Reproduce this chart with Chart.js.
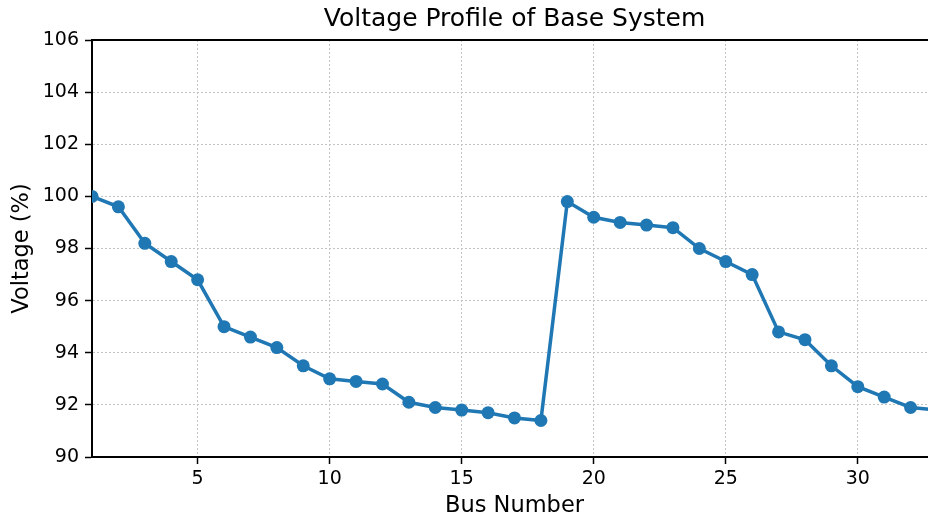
<!DOCTYPE html>
<html>
<head>
<meta charset="utf-8">
<title>Voltage Profile of Base System</title>
<script src="https://cdn.jsdelivr.net/npm/chart.js@4"></script>
<style>
  html, body { margin: 0; padding: 0; background: #fff; overflow: hidden; }
  #wrap { width: 960px; height: 522px; }
</style>
</head>
<body>
<div id="wrap"><canvas id="voltChart" width="960" height="522"></canvas></div>
<script>
const busNumbers = [1, 2, 3, 4, 5, 6, 7, 8, 9, 10, 11, 12, 13, 14, 15, 16, 17,
    18, 19, 20, 21, 22, 23, 24, 25, 26, 27, 28, 29, 30, 31, 32, 33];
const voltages = [100.0, 99.6, 98.2, 97.5, 96.8, 95.0, 94.6, 94.2, 93.5, 93.0, 92.9,
    92.8, 92.1, 91.9, 91.8, 91.7, 91.5, 91.4, 99.8, 99.2, 99.0, 98.9, 98.8, 98.0,
    97.5, 97.0, 94.8, 94.5, 93.5, 92.7, 92.3, 91.9, 91.8];
const xTicks = [5, 10, 15, 20, 25, 30];
const yTicks = [90, 92, 94, 96, 98, 100, 102, 104, 106];

const FONT = "'DejaVu Sans', sans-serif";
const BLUE = '#1f77b4';

// top and right spines, like matplotlib's box
const frame = {
    id: 'frame',
    afterDraw(chart) {
        const { ctx, chartArea: a } = chart;
        ctx.save();
        ctx.strokeStyle = '#000';
        ctx.lineWidth = 2;
        ctx.beginPath();
        ctx.moveTo(a.left, a.top);
        ctx.lineTo(a.right, a.top);
        ctx.lineTo(a.right, a.bottom);
        ctx.stroke();
        ctx.restore();
    }
};

const gridOpts = {
    color: '#c4c4c4',
    lineWidth: 1,
    drawTicks: true,
    tickLength: 7,
    tickColor: '#000',
    tickWidth: 1.5
};
const borderOpts = { color: '#000', width: 2, dash: [2, 2] };

// canvas is wider than the window: the plot is cut off on the right, as in the picture
new Chart(document.getElementById('voltChart'), {
    type: 'line',
    data: {
        datasets: [{
            label: 'Voltage',
            data: busNumbers.map((b, i) => ({ x: b, y: voltages[i] })),
            borderColor: BLUE,
            backgroundColor: BLUE,
            borderWidth: 3.5,
            pointRadius: 6.5,
            pointBorderWidth: 0,
            pointBackgroundColor: BLUE,
            tension: 0,
            clip: 0
        }]
    },
    options: {
        responsive: false,
        animation: false,
        devicePixelRatio: 1,
        layout: { padding: { left: 0, right: 23, top: 0, bottom: 0 } },
        plugins: {
            legend: { display: false },
            tooltip: { enabled: false },
            title: {
                display: true,
                fullSize: false,
                text: 'Voltage Profile of Base System',
                color: '#000',
                font: { family: FONT, size: 25, weight: 'normal' },
                padding: { top: 4, bottom: 6 }
            }
        },
        scales: {
            x: {
                type: 'linear',
                min: 1,
                max: 33,
                afterBuildTicks: s => { s.ticks = xTicks.map(v => ({ value: v })); },
                afterFit: s => { s.height = 65; },
                ticks: {
                    color: '#000',
                    padding: 4,
                    maxRotation: 0,
                    font: { family: FONT, size: 19 }
                },
                grid: gridOpts,
                border: borderOpts,
                title: {
                    display: true,
                    text: 'Bus Number',
                    color: '#000',
                    font: { family: FONT, size: 22.5 },
                    padding: { top: 0, bottom: 2 }
                }
            },
            y: {
                min: 90,
                max: 106,
                afterBuildTicks: s => { s.ticks = yTicks.map(v => ({ value: v })); },
                afterFit: s => { s.width = 92; },
                ticks: {
                    color: '#000',
                    padding: 6,
                    font: { family: FONT, size: 19 }
                },
                grid: gridOpts,
                border: borderOpts,
                title: {
                    display: true,
                    text: 'Voltage (%)',
                    color: '#000',
                    font: { family: FONT, size: 22.5 },
                    padding: { top: 9, bottom: 0 }
                }
            }
        }
    },
    plugins: [frame]
});
</script>
</body>
</html>
